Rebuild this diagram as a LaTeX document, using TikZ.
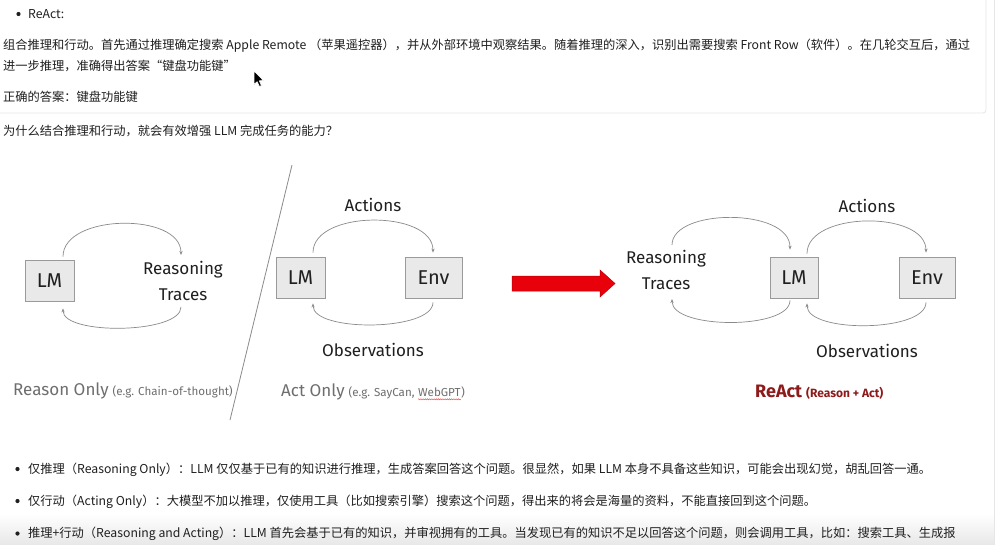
\documentclass[tikz,border=0pt]{standalone}
\usepackage{fontspec}
\setmainfont{Noto Sans CJK SC}
\newfontfamily\dfont{Fira Sans}
\usetikzlibrary{arrows.meta,decorations.pathmorphing,calc}
\definecolor{txt}{HTML}{1F1F1F}
\definecolor{boxfill}{HTML}{E9E9E9}
\definecolor{boxdraw}{HTML}{9A9A9A}
\definecolor{arcgray}{HTML}{8A8A8A}
\definecolor{capgray}{HTML}{6E6E6E}
\definecolor{reactred}{HTML}{8E1B1B}
\definecolor{arrowred}{HTML}{E8000B}
\definecolor{cardline}{HTML}{E6E6E6}
\newcommand{\smallcap}{\fontsize{11.6}{13}\selectfont}
\tikzset{
  bodytxt/.style={anchor=base west, inner sep=0pt, text=txt, font=\fontsize{12.25}{15}\selectfont},
  bul/.style={fill=txt},
  lmbox/.style={draw=boxdraw, fill=boxfill, line width=0.8pt, minimum height=41pt, inner sep=0pt, text=txt, font=\dfont\fontsize{20}{24}\selectfont},
  lbl/.style={inner sep=0pt, text=txt, align=center, font=\dfont\fontsize{17}{26}\selectfont},
  captxt/.style={anchor=base west, inner sep=0pt, text=capgray, font=\dfont\fontsize{17}{20}\selectfont},
  capsmall/.style={font=\dfont\smallcap},
  arcline/.style={draw=arcgray, line width=0.7pt, -{Stealth[length=4pt,width=3.2pt]}},
}
\begin{document}
\begin{tikzpicture}[x=1pt,y=-1pt]
\useasboundingbox (0,0) rectangle (995,544);
\clip (0,0) rectangle (995,544);
\fill[white] (0,0) rectangle (995,544);
\shade[top color=white, bottom color=black!9] (0,514) rectangle (995,544);
% card and side line
\draw[cardline, line width=0.8pt, rounded corners=3pt] (-6,-6) rectangle (986,113);
\draw[cardline, line width=0.8pt] (994,0) -- (994,544);

% top text
\fill[bul] (18.5,14) circle (2.1pt);
\node[bodytxt] (t0) at (28,18.5) {ReAct:};
\node[bodytxt] (t1) at (3,49.5) {组合推理和行动。首先通过推理确定搜索 Apple Remote （苹果遥控器），并从外部环境中观察结果。随着推理的深入，识别出需要搜索 Front Row（软件）。在几轮交互后，通过};
\node[bodytxt] (t2) at (3,70.5) {进一步推理，准确得出答案“键盘功能键”};
\node[bodytxt] (t3) at (3,101.5) {正确的答案：键盘功能键};
\node[bodytxt] (t4) at (3,135.5) {为什么结合推理和行动，就会有效增强 LLM 完成任务的能力？};
% cursor
\filldraw[fill=black, draw=white, line width=0.6pt, line join=round]
  (254,71) -- (254,84.5) -- (257.2,81.6) -- (259.4,86.5) -- (261.4,85.6) -- (259.3,80.8) -- (263.5,80.6) -- cycle;

% ---- Reason only
\node[lmbox, minimum width=49pt] (lm1) at (49.5,280.5) {LM};
\node[lbl] (rt1) at (183,281) {Reasoning\\Traces};
\coordinate (a1s) at ($(lm1.north)+(13.5,-3)$);
\coordinate (a1e) at ($(rt1.center)+(-2,-26)$);
\coordinate (b1s) at ($(rt1.center)+(-2,26)$);
\coordinate (b1e) at ($(lm1.south)+(13.5,7)$);
\draw[arcline] (a1s) .. controls +(0,-43) and +(0,-43) .. (a1e);
\draw[arcline] (b1s) .. controls +(0,27) and +(0,27) .. (b1e);
\node[captxt] (cap1) at (13,395) {Reason Only\hspace{4pt}{\smallcap(e.g. Chain-of-thought)}};

% divider
\coordinate (dv1) at (292,165);
\coordinate (dv2) at (230,420);
\draw[arcgray, line width=0.8pt] (dv1) -- (dv2);

% ---- Act only
\node[lmbox, minimum width=49pt] (lm2) at (300.5,277.5) {LM};
\node[lmbox, minimum width=57pt] (env2) at (433.5,277.5) {Env};
\node[lbl] (act2) at (373,205) {Actions};
\node[lbl] (obs2) at (373,350) {Observations};
\coordinate (a2s) at ($(lm2.north)+(12.5,-4)$);
\coordinate (a2e) at ($(env2.north)+(-0.5,-4)$);
\coordinate (b2s) at ($(env2.south)+(-0.5,4)$);
\coordinate (b2e) at ($(lm2.south)+(12.5,5)$);
\draw[arcline] (a2s) .. controls +(0,-43) and +(0,-43) .. (a2e);
\draw[arcline] (b2s) .. controls +(0,29) and +(0,29) .. (b2e);

% ---- red arrow
\filldraw[fill=arrowred, draw=arrowred!80!black, line width=0.5pt]
  (512,276) -- (600,276) -- (600,270) -- (615,283.5) -- (600,297) -- (600,291) -- (512,291) -- cycle;

% ---- ReAct
\node[lmbox, minimum width=48pt] (lm3) at (794,277.5) {LM};
\node[lmbox, minimum width=56pt] (env3) at (927,277.5) {Env};
\node[lbl] (rt3) at (666,270) {Reasoning\\Traces};
\node[lbl] (act3) at (867,206) {Actions};
\node[lbl] (obs3) at (867,351) {Observations};
\coordinate (a3s) at ($(rt3.center)+(6,-25)$);
\coordinate (a3e) at ($(lm3.north)+(-4,-7)$);
\coordinate (b3s) at ($(lm3.south)+(-4,2)$);
\coordinate (b3e) at ($(rt3.center)+(6,29)$);
\draw[arcline] (a3s) .. controls +(0,-37) and +(0,-42) .. (a3e);
\draw[arcline] (b3s) .. controls +(0,29.5) and +(0,30.5) .. (b3e);
\coordinate (c3s) at ($(lm3.north)+(13,-3)$);
\coordinate (c3e) at ($(env3.north)+(-1,-4)$);
\coordinate (d3s) at ($(env3.south)+(-1,4)$);
\coordinate (d3e) at ($(lm3.south)+(13,5)$);
\draw[arcline] (c3s) .. controls +(0,-42.5) and +(0,-42.5) .. (c3e);
\draw[arcline] (d3s) .. controls +(0,30) and +(0,30) .. (d3e);

% captions
\node[captxt] (act2cap) at (281,396) {Act Only\hspace{4pt}{\smallcap(e.g. SayCan,}};
\node[captxt, capsmall] (web) at ($(act2cap.base east)+(3.2,0)$) {WebGPT};
\node[captxt, capsmall] (webclose) at (web.base east) {)};
\draw[red!80, line width=0.4pt, decorate, decoration={snake, amplitude=0.6pt, segment length=2.2pt}]
  ($(web.south west)+(0,3)$) -- ($(web.south east)+(0,3)$);
\node[captxt, text=reactred, font=\dfont\bfseries\fontsize{18}{20}\selectfont] (react) at (755,397) {ReAct\hspace{4pt}{\fontsize{12}{13}\selectfont(Reason + Act)}};

% bottom bullets
\fill[bul] (17.5,469) circle (2.1pt);
\node[bodytxt] (b1) at (28,473) {仅推理（Reasoning Only）：LLM 仅仅基于已有的知识进行推理，生成答案回答这个问题。很显然，如果 LLM 本身不具备这些知识，可能会出现幻觉，胡乱回答一通。};
\fill[bul] (17.5,501) circle (2.1pt);
\node[bodytxt] (b2) at (28,505) {仅行动（Acting Only）：大模型不加以推理，仅使用工具（比如搜索引擎）搜索这个问题，得出来的将会是海量的资料，不能直接回到这个问题。};
\fill[bul] (17.5,533.5) circle (2.1pt);
\node[bodytxt] (b3) at (28,537.5) {推理+行动（Reasoning and Acting）：LLM 首先会基于已有的知识，并审视拥有的工具。当发现已有的知识不足以回答这个问题，则会调用工具，比如：搜索工具、生成报};
\end{tikzpicture}
\end{document}
